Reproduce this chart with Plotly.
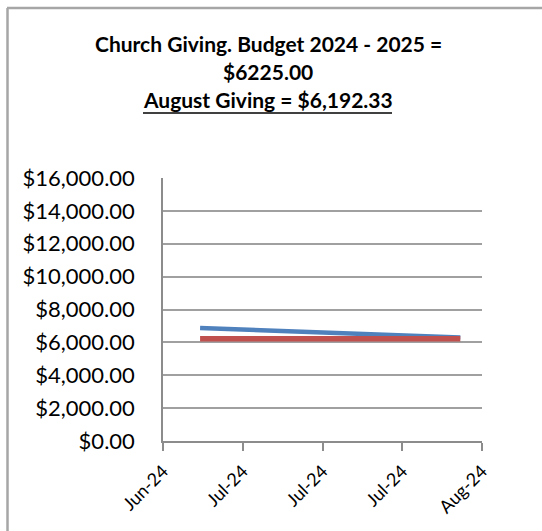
import plotly.graph_objects as go

# Data
dates = ["2024-06-30", "2024-07-31"]
giving = [6870, 6300]
budget = [6225, 6225]
title_lines = ["Church Giving. Budget 2024 - 2025 =", "$6225.00", "August Giving = $6,192.33"]

W, H = 542, 531
L, R, T, B = 163, 60, 178, 90
pw, ph = W - L - R, H - T - B

FONT = "Lato"

fig = go.Figure()
fig.add_trace(go.Scatter(x=dates, y=giving, mode="lines",
                         line=dict(color="#4f81bd", width=4.5), name="Giving"))
fig.add_trace(go.Scatter(x=dates, y=budget, mode="lines",
                         line=dict(color="#c0504d", width=5.5), name="Budget"))

def px_x(p):
    return (p - L) / pw

def px_y(p):
    return 1 - (p - T) / ph

annots = []
for i, (txt, yc) in enumerate(zip(title_lines, [43, 72, 99])):
    annots.append(dict(text=("<b>%s</b>" % txt), x=px_x(268), y=px_y(yc),
                       xref="paper", yref="paper", showarrow=False,
                       xanchor="center", yanchor="middle",
                       font=dict(family=FONT, size=21, color="#000000")))

shapes = [
    # chart-area frame (top & left)
    dict(type="line", xref="paper", yref="paper", x0=px_x(7), x1=px_x(545),
         y0=px_y(8), y1=px_y(8), line=dict(color="#a6a6a6", width=2.5)),
    dict(type="line", xref="paper", yref="paper", x0=px_x(7.5), x1=px_x(7.5),
         y0=px_y(8), y1=px_y(540), line=dict(color="#a6a6a6", width=2.5)),
    # underline for third title line
    dict(type="line", xref="paper", yref="paper", x0=px_x(143), x1=px_x(392),
         y0=px_y(113), y1=px_y(113), line=dict(color="#000000", width=1.5)),
]

fig.update_layout(
    width=W, height=H,
    margin=dict(l=L, r=R, t=T, b=B),
    paper_bgcolor="white", plot_bgcolor="white",
    showlegend=False,
    annotations=annots,
    shapes=shapes,
    xaxis=dict(
        type="date",
        range=["2024-06-25 14:00", "2024-08-02 14:00"],
        tick0="2024-06-25 14:00", dtick=9.5 * 86400000,
        tickformat="%b-%y", tickangle=-45,
        showgrid=False, zeroline=False,
        showline=True, linecolor="#8c8c8c", linewidth=1.5,
        ticks="outside", ticklen=8, tickcolor="#8c8c8c", tickwidth=1.5,
        ticklabelstandoff=3,
        tickfont=dict(family=FONT, size=18, color="#000000"),
    ),
    yaxis=dict(
        range=[0, 16000], dtick=2000,
        tickformat="$,.2f",
        showgrid=True, gridcolor="#a0a0a0", gridwidth=1.5,
        zeroline=False,
        showline=True, linecolor="#8c8c8c", linewidth=1.5,
        ticks="", ticklabelstandoff=22,
        tickfont=dict(family=FONT, size=22, color="#000000"),
    ),
)

fig.write_html("out.html", config={"displayModeBar": False},
               post_script="document.body.style.margin='0';")
